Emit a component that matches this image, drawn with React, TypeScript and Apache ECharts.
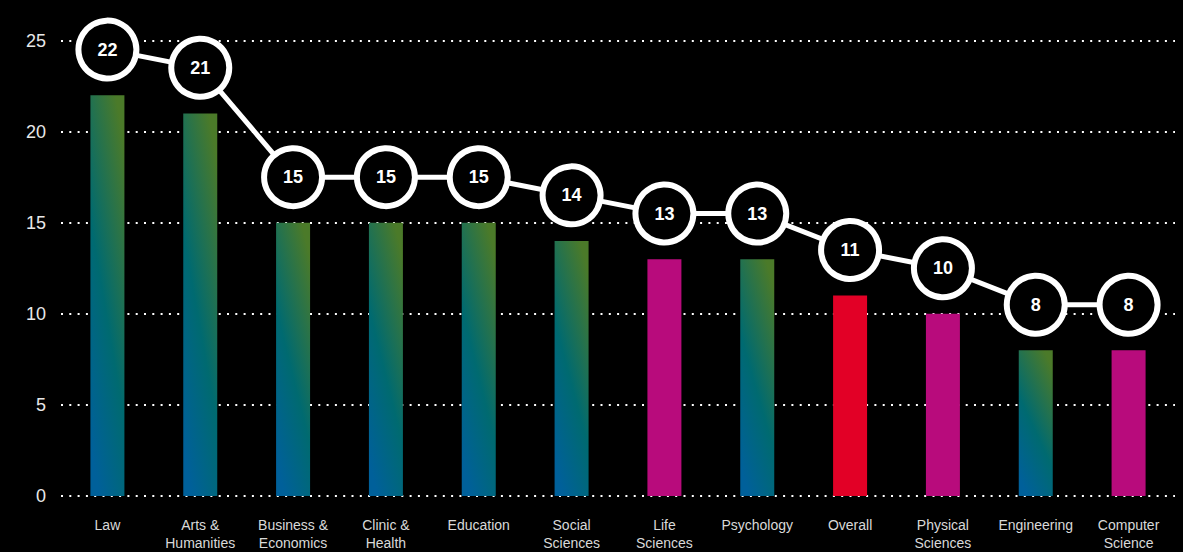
import React, { useEffect, useRef } from "react";
import * as echarts from "echarts";

const categories = [
  "Law",
  "Arts &\nHumanities",
  "Business &\nEconomics",
  "Clinic &\nHealth",
  "Education",
  "Social\nSciences",
  "Life\nSciences",
  "Psychology",
  "Overall",
  "Physical\nSciences",
  "Engineering",
  "Computer\nScience",
];
const values = [22, 21, 15, 15, 15, 14, 13, 13, 11, 10, 8, 8];
const kinds = [
  "field", "field", "field", "field", "field", "field",
  "science", "field", "overall", "science", "field", "science",
];
const yTicks = [0, 5, 10, 15, 20, 25];

const gradient = () =>
  new echarts.graphic.LinearGradient(0.75, 0, 0.25, 1, [
    { offset: 0, color: "#4b7a29" },
    { offset: 0.55, color: "#006a70" },
    { offset: 1, color: "#00609a" },
  ]);

const kindColor = (k: string) =>
  k === "science" ? "#b80b7c" : k === "overall" ? "#e20026" : gradient();

export default function App() {
  const ref = useRef<HTMLDivElement>(null);
  useEffect(() => {
    document.body.style.margin = "0";
    document.body.style.background = "#000";
    const chart = echarts.init(ref.current!, undefined, { renderer: "svg" });
    chart.setOption({
      animation: false,
      backgroundColor: "#000",
      grid: { left: 61, right: 8, top: 40.5, bottom: 56, containLabel: false },
      xAxis: {
        type: "category",
        data: categories,
        axisLine: { show: false },
        axisTick: { show: false },
        axisLabel: {
          interval: 0,
          color: "#d9d9d9",
          fontSize: 14,
          lineHeight: 18,
          margin: 20,
          fontFamily: "Liberation Sans, Arial, sans-serif",
        },
      },
      yAxis: [
        {
          type: "value",
          min: yTicks[0],
          max: yTicks[yTicks.length - 1],
          interval: 5,
          axisLine: { show: false },
          axisTick: { show: false },
          axisLabel: {
            color: "#e8e8e8",
            fontSize: 18,
            margin: 15,
            fontFamily: "Liberation Sans, Arial, sans-serif",
          },
          splitLine: {
            lineStyle: { color: "#ffffff", width: 2, type: [2, 6.3] },
          },
        },
        {
          type: "value",
          min: -2.5,
          max: 22.5,
          show: false,
          splitLine: { show: false },
        },
      ],
      series: [
        {
          type: "bar",
          data: values.map((v, i) => ({
            value: v,
            itemStyle: { color: kindColor(kinds[i]) },
          })),
          barWidth: 34,
          yAxisIndex: 0,
        },
        {
          type: "line",
          data: values,
          yAxisIndex: 1,
          symbol: "circle",
          symbolSize: 58,
          clip: false,
          lineStyle: { color: "#ffffff", width: 5 },
          itemStyle: { color: "#000000", borderColor: "#ffffff", borderWidth: 6 },
          label: {
            show: true,
            position: "inside",
            color: "#ffffff",
            fontWeight: "bold",
            fontSize: 18,
            fontFamily: "Liberation Sans, Arial, sans-serif",
          },
          z: 5,
        },
      ],
    });
    return () => chart.dispose();
  }, []);
  return <div ref={ref} style={{ width: 1183, height: 552 }} />;
}
